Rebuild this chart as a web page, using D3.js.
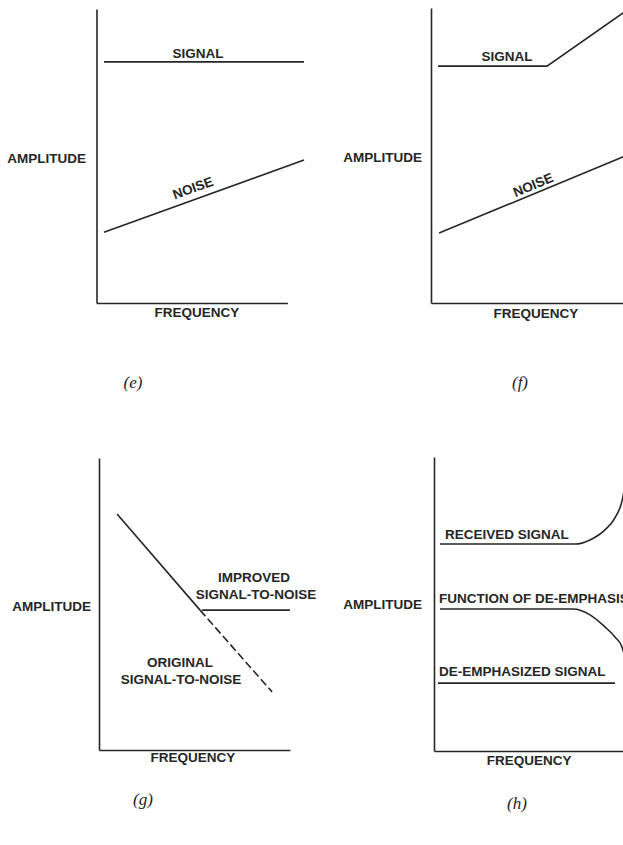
<!DOCTYPE html>
<html>
<head>
<meta charset="utf-8">
<script src="https://cdn.jsdelivr.net/npm/d3@7.9.0/dist/d3.min.js"></script>
<style>
  html, body { margin: 0; padding: 0; background: #fff; }
  svg { display: block; }
  .lbl { font-family: "Liberation Sans", Arial, sans-serif; font-weight: bold; font-size: 13.5px; fill: #262626; }
  .cap { font-family: "Liberation Serif", "DejaVu Serif", serif; font-style: italic; font-size: 17px; fill: #1e1e1e; }
</style>
</head>
<body>
<svg id="chart" width="623" height="845"></svg>
<script>
// frequency (x) / amplitude (y), both on a 0-100 relative scale
const panelIds = ["e", "f", "g", "h"];

// (e) flat signal, rising noise
const signalE = [[3.6, 82], [100, 82]];
const noiseE = [[3.6, 24.1], [100, 48.6]];

// (f) pre-emphasized signal, rising noise
const signalF = [[3.4, 80.3], [55.9, 80.3], [100, 102]];
const noiseF = [[3.9, 23.7], [100, 51.7]];

// (g) signal-to-noise
const snrSolid = [[8.7, 80.8], [48.7, 47.9]];
const snrDashed = [[48.7, 47.9], [83.4, 19.9]];
const snrImproved = [[49.6, 47.9], [92, 47.9]];

// (h) de-emphasis
const receivedH = [[2.9, 70.4], [68, 70.4], [75.2, 71.8], [82.4, 75.2], [87.2, 79.3], [90.6, 85], [92, 90]];
const deemphFnH = [[2.9, 48.3], [67, 48.3], [75.2, 46.3], [82.4, 42.2], [87.2, 38.8], [90.6, 35.4], [92, 32]];
const deemphSigH = [[1.9, 23.1], [87.2, 23.1]];

const xAxisEnd = { e: 92, f: 100, g: 92, h: 100 };

// labels, anchored in data units
const labels = [
  { p: "e", t: "SIGNAL", x: 48.9, y: 84.7, a: "middle" },
  { p: "e", t: "NOISE", x: 46.5, y: 39.1, a: "middle", along: noiseE },
  { p: "e", t: "AMPLITUDE", x: -5.1, y: 49.3, a: "end" },
  { p: "e", t: "FREQUENCY", x: 48.4, y: -3.1, a: "middle" },
  { p: "f", t: "SIGNAL", x: 36.6, y: 83.4, a: "middle" },
  { p: "f", t: "NOISE", x: 49.2, y: 40, a: "middle", along: noiseF },
  { p: "f", t: "AMPLITUDE", x: -4.3, y: 49.2, a: "end" },
  { p: "f", t: "FREQUENCY", x: 50.6, y: -3.4, a: "middle" },
  { p: "g", t: "IMPROVED", x: 74.7, y: 59.2, a: "middle" },
  { p: "g", t: "SIGNAL-TO-NOISE", x: 75.7, y: 53.4, a: "middle" },
  { p: "g", t: "AMPLITUDE", x: -3.9, y: 49.3, a: "end" },
  { p: "g", t: "ORIGINAL", x: 39, y: 29.8, a: "middle" },
  { p: "g", t: "SIGNAL-TO-NOISE", x: 39.5, y: 24, a: "middle" },
  { p: "g", t: "FREQUENCY", x: 45.3, y: -2.7, a: "middle" },
  { p: "h", t: "RECEIVED SIGNAL", x: 5.3, y: 73.8, a: "start" },
  { p: "h", t: "FUNCTION OF DE-EMPHASIS", x: 2.4, y: 52, a: "start" },
  { p: "h", t: "DE-EMPHASIZED SIGNAL", x: 2.4, y: 27.2, a: "start" },
  { p: "h", t: "AMPLITUDE", x: -5.8, y: 49.7, a: "end" },
  { p: "h", t: "FREQUENCY", x: 45.8, y: -3.4, a: "middle" }
];
const captions = [
  { p: "e", x: 17.6, y: -27.2 },
  { p: "f", x: 42.9, y: -27.1 },
  { p: "g", x: 21.2, y: -17.1 },
  { p: "h", x: 40, y: -18 }
];

const series = {
  e: [{ d: signalE }, { d: noiseE }],
  f: [{ d: signalF }, { d: noiseF }],
  g: [{ d: snrSolid }, { d: snrDashed, dash: true }, { d: snrImproved }],
  h: [{ d: receivedH, curve: true }, { d: deemphFnH, curve: true }, { d: deemphSigH }]
};

// layout: axis origin and height of each panel (pixels)
const layout = {
  e: { ox: 96.5, oy: 303, h: 294 },
  f: { ox: 431, oy: 303, h: 295 },
  g: { ox: 99, oy: 750, h: 292 },
  h: { ox: 434, oy: 751, h: 294 }
};
const unitW = 207.5; // pixel width of 100 frequency units
const ink = "#262626";

const svg = d3.select("#chart");

panelIds.forEach((id) => {
  const L = layout[id];
  const x = d3.scaleLinear().domain([0, 100]).range([L.ox, L.ox + unitW]);
  const y = d3.scaleLinear().domain([0, 100]).range([L.oy, L.oy - L.h]);
  const g = svg.append("g").attr("class", "panel-" + id);

  // axes, no ticks
  const xa = x.copy().domain([0, xAxisEnd[id]]).range([x(0), x(xAxisEnd[id])]);
  g.append("g")
    .attr("transform", `translate(0,${y(0)})`)
    .call(d3.axisBottom(xa).tickValues([]).tickSizeOuter(0));
  g.append("g")
    .attr("transform", `translate(${x(0)},0)`)
    .call(d3.axisLeft(y).tickValues([]).tickSizeOuter(0));
  g.selectAll(".domain").attr("stroke", ink).attr("stroke-width", 1.6);

  series[id].forEach((s) => {
    const line = d3.line()
      .x((d) => x(d[0]))
      .y((d) => y(d[1]))
      .curve(s.curve ? d3.curveMonotoneX : d3.curveLinear);
    g.append("path")
      .attr("d", line(s.d))
      .attr("fill", "none")
      .attr("stroke", ink)
      .attr("stroke-width", 1.6)
      .attr("stroke-dasharray", s.dash ? "8,3.5" : null);
  });

  labels.filter((l) => l.p === id).forEach((l) => {
    const t = g.append("text")
      .attr("class", "lbl")
      .attr("x", x(l.x))
      .attr("y", y(l.y))
      .attr("text-anchor", l.a)
      .attr("dominant-baseline", "central")
      .text(l.t);
    if (l.along) {
      const a = l.along;
      const ang = Math.atan2(y(a[1][1]) - y(a[0][1]), x(a[1][0]) - x(a[0][0])) * 180 / Math.PI;
      t.attr("transform", `rotate(${ang},${x(l.x)},${y(l.y)})`);
    }
  });

  captions.filter((c) => c.p === id).forEach((c) => {
    g.append("text")
      .attr("class", "cap")
      .attr("x", x(c.x))
      .attr("y", y(c.y))
      .attr("text-anchor", "middle")
      .attr("dominant-baseline", "central")
      .text(`(${id})`);
  });
});
</script>
</body>
</html>
